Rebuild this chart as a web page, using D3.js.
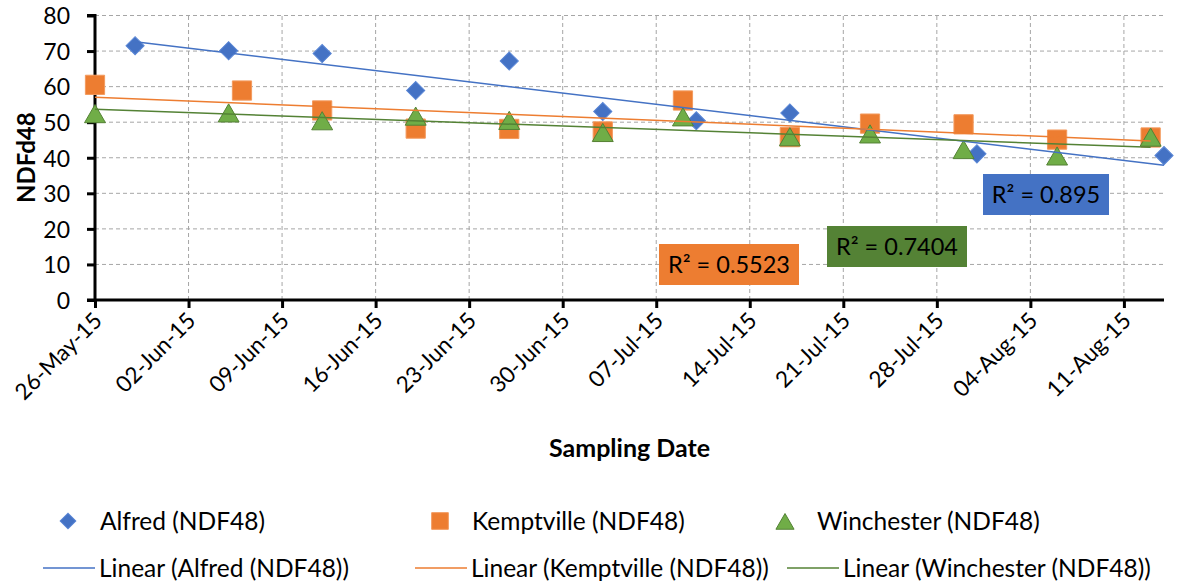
<!DOCTYPE html>
<html>
<head>
<meta charset="utf-8">
<script src="https://cdn.jsdelivr.net/npm/d3@7"></script>
<style>
  body { margin: 0; background: #fff; }
  text { font-family: "Lato", "Noto Sans", sans-serif; fill: #000; }
</style>
</head>
<body>
<div id="chart"></div>
<script>
// sampling data
var alfredDates = ["2015-05-29","2015-06-05","2015-06-12","2015-06-19","2015-06-26","2015-07-03","2015-07-10","2015-07-17","2015-07-31","2015-08-14"];
var alfredValues = [71.5, 70.1, 69.3, 58.9, 67.2, 53.0, 50.4, 52.6, 41.1, 40.6];

var kemptvilleDates = ["2015-05-26","2015-06-06","2015-06-12","2015-06-19","2015-06-26","2015-07-03","2015-07-09","2015-07-17","2015-07-23","2015-07-30","2015-08-06","2015-08-13"];
var kemptvilleValues = [60.5, 58.9, 53.3, 48.2, 48.1, 47.4, 56.1, 45.8, 49.6, 49.4, 45.1, 45.7];

var winchesterDates = ["2015-05-26","2015-06-05","2015-06-12","2015-06-19","2015-06-26","2015-07-03","2015-07-09","2015-07-17","2015-07-23","2015-07-30","2015-08-06","2015-08-13"];
var winchesterValues = [52.4, 52.6, 50.4, 51.7, 50.5, 47.1, 51.5, 45.9, 46.7, 42.3, 40.5, 45.8];

var seriesNames = ["Alfred (NDF48)", "Kemptville (NDF48)", "Winchester (NDF48)"];
var rSquared = ["0.895", "0.5523", "0.7404"];
var yTicks = [0, 10, 20, 30, 40, 50, 60, 70, 80];
var xStart = "2015-05-26", xEnd = "2015-08-14";

var W = 1179, H = 585;
var margin = {left: 95, right: 15, top: 15.5, bottom: 285};
var parse = d3.timeParse("%Y-%m-%d");

var svg = d3.select("#chart").append("svg")
    .attr("width", W)
    .attr("height", H);

var x = d3.scaleTime()
    .domain([parse(xStart), parse(xEnd)])
    .range([margin.left, W - margin.right]);

var y = d3.scaleLinear()
    .domain([0, 80])
    .range([H - margin.bottom, margin.top]);

var xTicks = d3.timeDay.range(parse(xStart), d3.timeDay.offset(parse(xEnd), 1), 7);

// gridlines
svg.append("g")
    .selectAll("line")
    .data(yTicks.filter(function(d) { return d > 0; }))
    .enter().append("line")
    .attr("x1", x.range()[0])
    .attr("x2", x.range()[1])
    .attr("y1", function(d) { return y(d); })
    .attr("y2", function(d) { return y(d); })
    .style("stroke", "#a6a6a6")
    .style("stroke-width", 1)
    .style("stroke-dasharray", "4,3");

svg.append("g")
    .selectAll("line")
    .data(xTicks.slice(1))
    .enter().append("line")
    .attr("x1", function(d) { return x(d); })
    .attr("x2", function(d) { return x(d); })
    .attr("y1", y(0))
    .attr("y2", y(80))
    .style("stroke", "#a6a6a6")
    .style("stroke-width", 1)
    .style("stroke-dasharray", "4,3");

// axes
var yAxis = svg.append("g")
    .attr("transform", "translate(" + margin.left + ",0)")
    .call(d3.axisLeft(y).tickValues(yTicks).tickSize(8).tickPadding(17));
yAxis.select(".domain").attr("d", "M-8," + y(80) + "H0V" + y(0)).style("stroke", "#000").style("stroke-width", 3);
yAxis.selectAll(".tick line").style("stroke", "#000").style("stroke-width", 3);
yAxis.selectAll(".tick text").style("font-size", "23px").attr("dy", "0.36em");

var xAxis = svg.append("g")
    .attr("transform", "translate(0," + y(0) + ")")
    .call(d3.axisBottom(x).tickValues(xTicks).tickSize(8).tickFormat(d3.timeFormat("%d-%b-%y")));
xAxis.select(".domain").attr("d", "M" + (margin.left - 8) + ",0H" + x.range()[1]).style("stroke", "#000").style("stroke-width", 3);
xAxis.selectAll(".tick line").style("stroke", "#000").style("stroke-width", 3);
xAxis.selectAll(".tick text")
    .style("font-size", "22.5px")
    .attr("text-anchor", "end")
    .attr("x", 0)
    .attr("y", 0)
    .attr("dy", 0)
    .attr("transform", "translate(8,22) rotate(-45)");

// axis titles
svg.append("text")
    .attr("x", (x.range()[0] + x.range()[1]) / 2)
    .attr("y", 457)
    .attr("text-anchor", "middle")
    .style("font-size", "25px")
    .style("font-weight", "bold")
    .text("Sampling Date");

svg.append("text")
    .attr("transform", "translate(35," + (y(40)) + ") rotate(-90)")
    .attr("text-anchor", "middle")
    .style("font-size", "24px")
    .style("font-weight", "bold")
    .text("NDFd48");

// series
var series = [
    {dates: alfredDates, values: alfredValues, color: "#4472c4", line: "#4472c4", stroke: "#5b87d6", shape: d3.symbolSquare, size: 165, rot: 45},
    {dates: kemptvilleDates, values: kemptvilleValues, color: "#ed7d31", line: "#ed7d31", stroke: "#f39a5e", shape: d3.symbolSquare, size: 370, rot: 0},
    {dates: winchesterDates, values: winchesterValues, color: "#70ad47", line: "#548235", stroke: "#548235", shape: d3.symbolTriangle, size: 190, rot: 0}
];

series.forEach(function(s) {
    s.points = s.dates.map(function(d, i) { return {date: parse(d), value: s.values[i]}; });
    // least squares trend, same as the spreadsheet's linear trendline
    var xs = s.points.map(function(p) { return +p.date; });
    var mx = d3.mean(xs), my = d3.mean(s.values);
    var num = d3.sum(xs, function(v, i) { return (v - mx) * (s.values[i] - my); });
    var den = d3.sum(xs, function(v) { return (v - mx) * (v - mx); });
    var slope = num / den, icpt = my - slope * mx;
    var x0 = d3.min(xs), x1 = d3.max(xs);
    s.trend = [[x0, icpt + slope * x0], [x1, icpt + slope * x1]];
});

var symbolOffset = function(s) { return s.shape === d3.symbolTriangle ? 3 : 0; };

series.forEach(function(s) {
    svg.append("g")
        .selectAll("path")
        .data(s.points)
        .enter().append("path")
        .attr("d", d3.symbol().type(s.shape).size(s.size))
        .attr("transform", function(d) { return "translate(" + x(d.date) + "," + (y(d.value) + symbolOffset(s)) + ") rotate(" + s.rot + ")"; })
        .style("fill", s.color)
        .style("stroke", s.stroke)
        .style("stroke-width", 1);
});

series.forEach(function(s) {
    svg.append("line")
        .attr("x1", x(new Date(s.trend[0][0])))
        .attr("y1", y(s.trend[0][1]))
        .attr("x2", x(new Date(s.trend[1][0])))
        .attr("y2", y(s.trend[1][1]))
        .style("stroke", s.line)
        .style("stroke-width", 1.5);
});

// R² labels
var labelBoxes = [
    {x: 983, y: 174, w: 126, h: 41, fill: "#4472c4"},
    {x: 659, y: 244, w: 140, h: 41, fill: "#ed7d31"},
    {x: 827, y: 226, w: 140, h: 41, fill: "#548235"}
];
labelBoxes.forEach(function(b, i) {
    svg.append("rect")
        .attr("x", b.x).attr("y", b.y)
        .attr("width", b.w).attr("height", b.h)
        .style("fill", b.fill);
    svg.append("text")
        .attr("x", b.x + b.w / 2)
        .attr("y", b.y + b.h / 2)
        .attr("dy", "0.36em")
        .attr("text-anchor", "middle")
        .style("font-size", "23.5px")
        .text("R\u00b2 = " + rSquared[i]);
});

// legend
var legendCols = [68, 440, 785];
var legend1 = svg.append("g");
series.forEach(function(s, i) {
    legend1.append("path")
        .attr("d", d3.symbol().type(s.shape).size(s.size * 0.75))
        .attr("transform", "translate(" + legendCols[i] + "," + (521 + symbolOffset(s)) + ") rotate(" + s.rot + ")")
        .style("fill", s.color)
        .style("stroke", s.stroke);
    legend1.append("text")
        .attr("x", legendCols[i] + 32)
        .attr("y", 521)
        .attr("dy", "0.36em")
        .style("font-size", "24.5px")
        .text(seriesNames[i]);
});

var lineCols = [43, 415, 787];
series.forEach(function(s, i) {
    svg.append("line")
        .attr("x1", lineCols[i]).attr("x2", lineCols[i] + 52)
        .attr("y1", 568).attr("y2", 568)
        .style("stroke", s.line)
        .style("stroke-width", 1.5);
    svg.append("text")
        .attr("x", lineCols[i] + 56)
        .attr("y", 568)
        .attr("dy", "0.36em")
        .style("font-size", "24.5px")
        .text("Linear (" + seriesNames[i] + ")");
});
</script>
</body>
</html>
